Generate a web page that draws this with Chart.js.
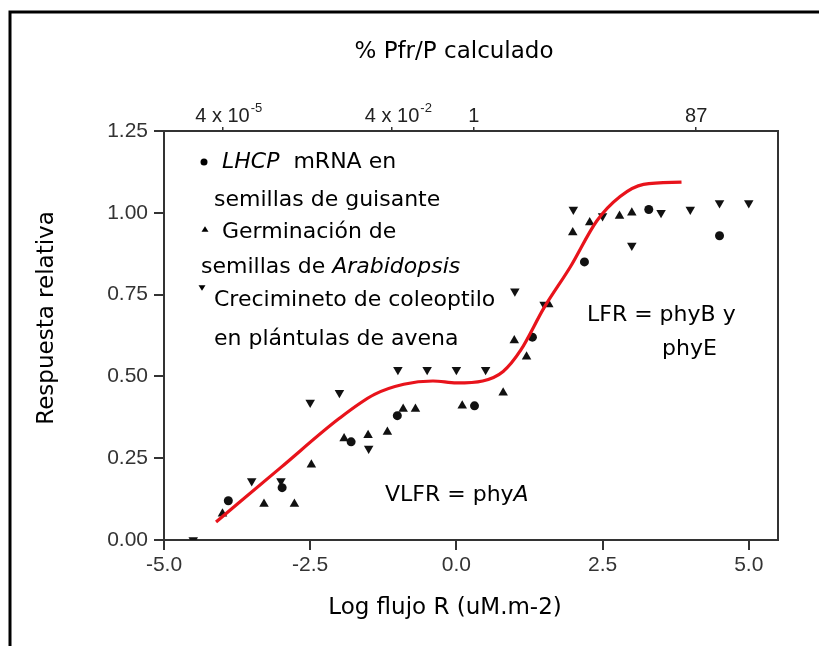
<!DOCTYPE html>
<html>
<head>
<meta charset="utf-8">
<script src="https://cdn.jsdelivr.net/npm/chart.js@4"></script>
<style>
  body { margin: 0; background: #fff; }
  canvas { display: block; }
</style>
</head>
<body>
<canvas id="chart" width="819" height="646"></canvas>
<script>
// LHCP mRNA en semillas de guisante (circles)
const peaX = [-3.9, -2.98, -1.8, -1.01, 0.31, 1.3, 2.19, 3.29, 4.5];
const peaY = [0.12, 0.16, 0.30, 0.38, 0.41, 0.62, 0.85, 1.01, 0.93];

// Germinacion de semillas de Arabidopsis (up triangles)
const arabX = [-4.0, -3.29, -2.77, -2.48, -1.92, -1.51, -1.18, -0.91, -0.7, 0.1, 0.8, 0.99, 1.2, 1.58, 1.99, 2.28, 2.79, 3.0];
const arabY = [0.08, 0.11, 0.11, 0.23, 0.31, 0.32, 0.33, 0.40, 0.40, 0.41, 0.45, 0.61, 0.56, 0.72, 0.94, 0.97, 0.99, 1.00];

// Crecimiento de coleoptilo en plantulas de avena (down triangles)
const oatX = [-4.5, -3.5, -3.0, -2.5, -2.0, -1.5, -1.0, -0.5, 0.0, 0.5, 1.0, 1.5, 2.0, 2.5, 3.0, 3.5, 4.0, 4.5, 5.0];
const oatY = [0.00, 0.18, 0.18, 0.42, 0.45, 0.28, 0.52, 0.52, 0.52, 0.52, 0.76, 0.72, 1.01, 0.99, 0.90, 1.00, 1.01, 1.03, 1.03];

// red fitted curve
const curveX = [-4.11, -3.0, -2.0, -1.4, -0.9, -0.4, 0.0, 0.45, 0.8, 1.1, 1.5, 1.95, 2.4, 2.8, 3.2, 3.85];
const curveY = [0.055, 0.222, 0.372, 0.445, 0.476, 0.486, 0.48, 0.486, 0.515, 0.58, 0.71, 0.835, 0.975, 1.05, 1.087, 1.094];

const xTicks = [-5.0, -2.5, 0.0, 2.5, 5.0];
const yTicks = [0.0, 0.25, 0.5, 0.75, 1.0, 1.25];

// top axis: % Pfr/P calculado
const topTickValues = [-4.0, -1.1, 0.3, 4.1];
const topTickBase = ["4 x 10", "4 x 10", "1", "87"];
const topTickExp = ["-5", "-2", "", ""];

const toPoints = (xs, ys) => xs.map((x, i) => ({ x: x, y: ys[i] }));

const textFont = '"Comic Sans MS", "DejaVu Sans", sans-serif';
const numFont = '"Liberation Sans", Arial, sans-serif';

function drawRuns(ctx, x, y, parts, size) {
  let cx = x;
  for (const [t, italic] of parts) {
    ctx.font = (italic ? 'italic ' : '') + size + 'px ' + textFont;
    ctx.fillText(t, cx, y);
    cx += ctx.measureText(t).width;
  }
}

function tri(ctx, x, y, s, down) {
  ctx.beginPath();
  if (down) {
    ctx.moveTo(x - s, y - s * 0.8); ctx.lineTo(x + s, y - s * 0.8); ctx.lineTo(x, y + s * 0.8);
  } else {
    ctx.moveTo(x - s, y + s * 0.8); ctx.lineTo(x + s, y + s * 0.8); ctx.lineTo(x, y - s * 0.8);
  }
  ctx.closePath();
  ctx.fill();
}

const decor = {
  id: 'decor',
  beforeDraw(chart) {
    const ctx = chart.ctx;
    ctx.save();
    ctx.fillStyle = '#fff';
    ctx.fillRect(0, 0, chart.width, chart.height);
    ctx.restore();
  },
  afterDraw(chart) {
    const ctx = chart.ctx;
    const a = chart.chartArea;
    const top = chart.scales.x2;
    ctx.save();

    // outer frame
    ctx.strokeStyle = '#000';
    ctx.lineWidth = 3;
    ctx.strokeRect(10, 12, 900, 700);

    // right side of the plot box
    ctx.strokeStyle = '#333';
    ctx.lineWidth = 2;
    ctx.beginPath();
    ctx.moveTo(a.right, a.top - 1);
    ctx.lineTo(a.right, a.bottom + 1);
    ctx.stroke();

    // top axis labels with superscripts
    ctx.fillStyle = '#222';
    ctx.textBaseline = 'alphabetic';
    topTickValues.forEach((v, i) => {
      const px = top.getPixelForValue(v);
      ctx.font = '20px ' + numFont;
      const w = ctx.measureText(topTickBase[i]).width;
      ctx.textAlign = 'left';
      ctx.fillText(topTickBase[i], px - w / 2, 122);
      if (topTickExp[i]) {
        ctx.font = '13px ' + numFont;
        ctx.fillText(topTickExp[i], px + w / 2 + 1, 112);
      }
    });

    // titles
    ctx.fillStyle = '#000';
    ctx.textAlign = 'center';
    ctx.textBaseline = 'middle';
    ctx.font = '23px ' + textFont;
    ctx.fillText('% Pfr/P calculado', 454, 52);
    ctx.fillText('Log flujo R (uM.m-2)', 445, 608);
    ctx.save();
    ctx.translate(47, 318);
    ctx.rotate(-Math.PI / 2);
    ctx.fillText('Respuesta relativa', 0, 0);
    ctx.restore();

    // legend-like notes
    ctx.textAlign = 'left';
    ctx.beginPath();
    ctx.arc(204, 162, 3.5, 0, Math.PI * 2);
    ctx.fill();
    drawRuns(ctx, 222, 162, [['LHCP', true], ['  mRNA en', false]], 22);
    drawRuns(ctx, 214, 200, [['semillas de guisante', false]], 22);
    tri(ctx, 205, 229, 3.5, false);
    drawRuns(ctx, 222, 232, [['Germinación de', false]], 22);
    drawRuns(ctx, 201, 267, [['semillas de ', false], ['Arabidopsis', true]], 22);
    tri(ctx, 202, 288, 3.5, true);
    drawRuns(ctx, 214, 300, [['Crecimineto de coleoptilo', false]], 22);
    drawRuns(ctx, 214, 339, [['en plántulas de avena', false]], 22);
    drawRuns(ctx, 587, 315, [['LFR = phyB y', false]], 22);
    drawRuns(ctx, 662, 349, [['phyE', false]], 22);
    drawRuns(ctx, 385, 495, [['VLFR = phy', false], ['A', true]], 22);

    ctx.restore();
  }
};

const axisColor = '#333';

new Chart(document.getElementById('chart'), {
  type: 'scatter',
  data: {
    datasets: [
      {
        label: 'curva',
        data: toPoints(curveX, curveY),
        showLine: true,
        borderColor: '#e8131b',
        borderWidth: 3.2,
        pointRadius: 0,
        cubicInterpolationMode: 'monotone',
        order: 0
      },
      {
        label: 'LHCP mRNA en semillas de guisante',
        data: toPoints(peaX, peaY),
        pointStyle: 'circle',
        pointRadius: 4.5,
        pointBackgroundColor: '#111',
        pointBorderWidth: 0,
        order: 1
      },
      {
        label: 'Germinación de semillas de Arabidopsis',
        data: toPoints(arabX, arabY),
        pointStyle: 'triangle',
        pointRadius: 5.5,
        pointBackgroundColor: '#111',
        pointBorderWidth: 0,
        order: 1
      },
      {
        label: 'Crecimineto de coleoptilo en plántulas de avena',
        data: toPoints(oatX, oatY),
        pointStyle: 'triangle',
        pointRotation: 180,
        pointRadius: 5.5,
        pointBackgroundColor: '#111',
        pointBorderWidth: 0,
        order: 1
      }
    ]
  },
  options: {
    responsive: false,
    animation: false,
    layout: { padding: { left: 0, right: 41, top: 0, bottom: 0 } },
    plugins: { legend: { display: false }, tooltip: { enabled: false } },
    scales: {
      x: {
        type: 'linear',
        position: 'bottom',
        min: -5,
        max: 5.5,
        afterBuildTicks: s => { s.ticks = xTicks.map(v => ({ value: v })); },
        afterFit: s => { s.height = 106; },
        grid: { drawOnChartArea: false, drawTicks: true, tickLength: 10, color: axisColor, lineWidth: 2 },
        border: { display: true, color: axisColor, width: 2 },
        ticks: {
          color: '#333',
          padding: 3,
          maxRotation: 0,
          font: { family: numFont, size: 21 },
          callback: v => v.toFixed(1)
        }
      },
      x2: {
        type: 'linear',
        axis: 'x',
        position: 'top',
        min: -5,
        max: 5.5,
        afterBuildTicks: s => { s.ticks = topTickValues.map(v => ({ value: v })); },
        afterFit: s => { s.height = 131; },
        grid: { drawOnChartArea: false, drawTicks: true, tickLength: 4, color: axisColor, lineWidth: 1.5 },
        border: { display: true, color: axisColor, width: 2 },
        ticks: { display: false }
      },
      y: {
        type: 'linear',
        position: 'left',
        min: 0,
        max: 1.25,
        afterBuildTicks: s => { s.ticks = yTicks.map(v => ({ value: v })); },
        afterFit: s => { s.width = 164; },
        grid: { drawOnChartArea: false, drawTicks: true, tickLength: 10, color: axisColor, lineWidth: 2 },
        border: { display: true, color: axisColor, width: 2 },
        ticks: {
          color: '#333',
          padding: 6,
          font: { family: numFont, size: 21 },
          callback: v => v.toFixed(2)
        }
      }
    }
  },
  plugins: [decor]
});
</script>
</body>
</html>
